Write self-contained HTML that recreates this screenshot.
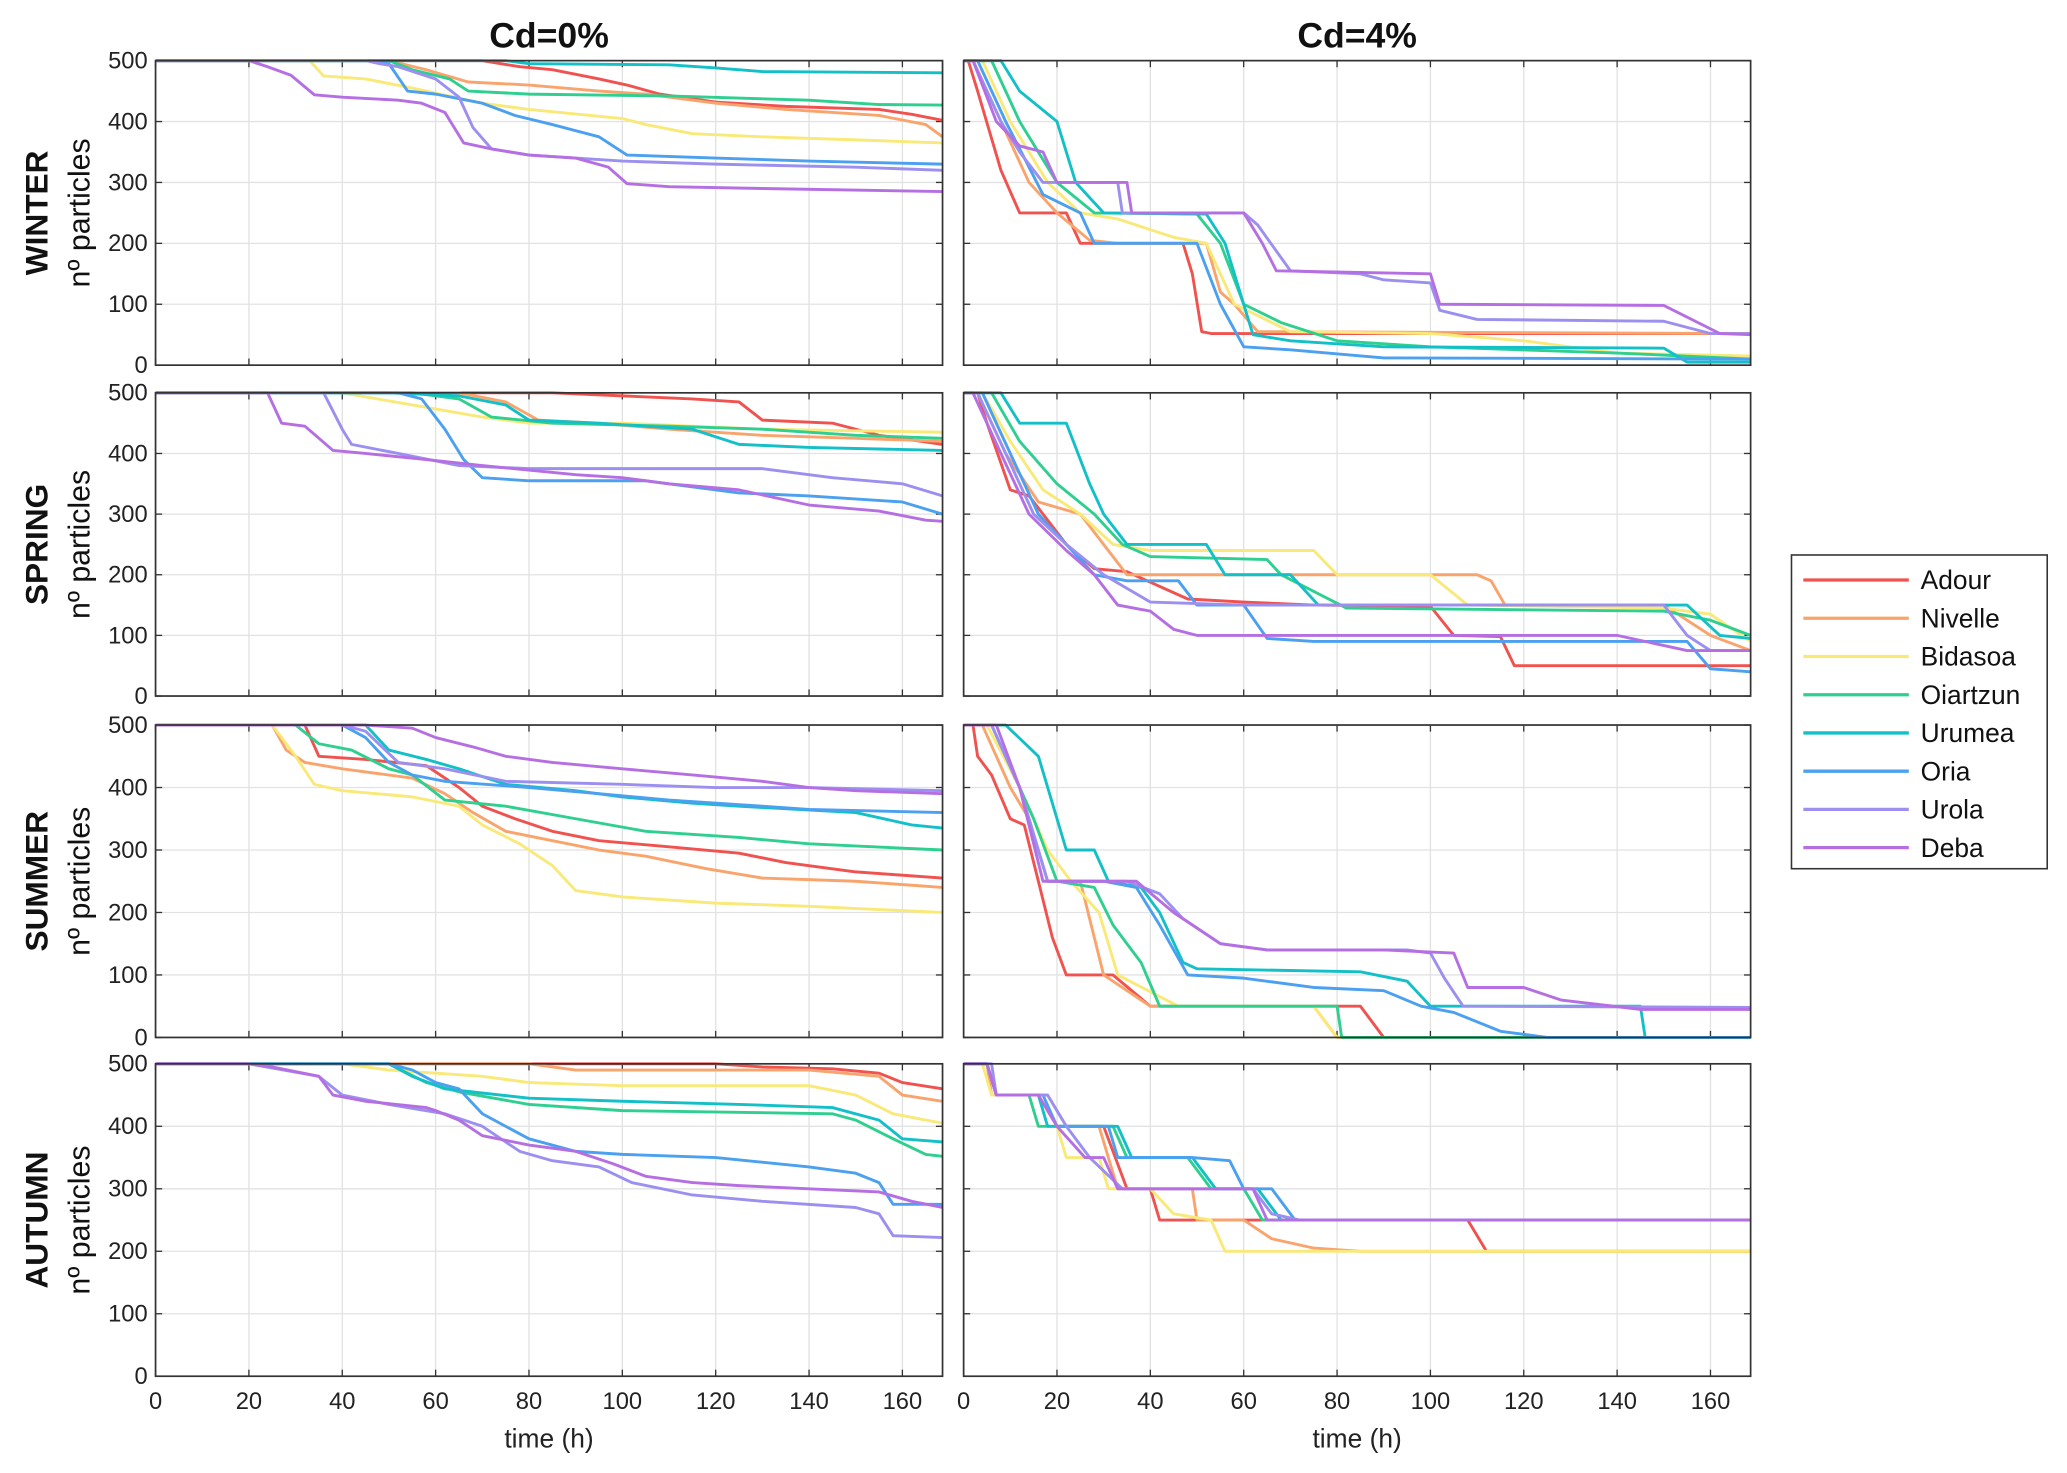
<!DOCTYPE html>
<html><head><meta charset="utf-8"><style>
html,body{margin:0;padding:0;background:#fff;}
svg{display:block;}
text{font-family:"Liberation Sans",sans-serif;}
.tick{font-family:"Liberation Sans Narrow","Liberation Sans",sans-serif;font-size:18px;fill:#222;}
</style></head><body>
<svg id="fig" width="2067" height="1473" viewBox="0 0 1568 1117.4" preserveAspectRatio="none" xmlns="http://www.w3.org/2000/svg"></svg>
<script>
const seriesNames = ["Adour","Nivelle","Bidasoa","Oiartzun","Urumea","Oria","Urola","Deba"];
const seasonNames = ["WINTER","SPRING","SUMMER","AUTUMN"];
const conditionNames = ["Cd=0%","Cd=4%"];
const xTicks = [0,20,40,60,80,100,120,140,160];
const yTicks = [0,100,200,300,400,500];
const colors = ["#f0524f","#f9a46c","#f8e978","#2ecf8f","#13c0c8","#4ba0ef","#9b90f0","#b56fe2"];

// series as flat [t,v,t,v,...] per river
const winterCd0 = [
 [0,500,70,500,78,490,85,485,95,470,101,460,108,445,120,432,135,425,155,420,162,412,168.6,402],
 [0,500,50,500,58,485,67,465,80,460,95,450,105,445,120,430,135,420,155,410,165,395,168.6,375],
 [0,500,33,500,36,475,45,470,55,455,70,430,80,420,100,405,105,395,115,380,130,375,150,370,168.6,365],
 [0,500,50,500,55,485,63,470,67,450,80,445,110,442,140,435,155,428,168.6,427],
 [0,500,75,500,80,495,110,493,120,488,130,482,168.6,480],
 [0,500,45,500,50,495,54,450,60,445,70,430,77,410,85,395,95,375,101,345,120,340,140,335,168.6,330],
 [0,500,45,500,48,495,52,490,60,470,65,440,68,390,72,355,80,345,100,335,120,330,150,325,168.6,320],
 [0,500,20,500,24,490,29,476,34,444,40,440,52,435,57,430,62,415,66,365,72,355,80,345,90,340,97,325,101,298,110,293,130,290,168.6,285]
];
const winterCd4 = [
 [0,500,1,500,3,450,8,320,12,250,22,250,25,200,47,200,49,150,51,55,53,52,168.6,52],
 [0,500,2,500,8,400,14,300,20,250,27,205,33,200,52,200,55,120,58,100,63,55,168.6,52],
 [0,500,4,500,10,400,18,300,25,250,33,240,45,210,52,200,58,100,70,55,100,52,120,40,140,20,168.6,15],
 [0,500,6,500,12,400,20,300,28,250,50,248,55,200,60,100,68,70,80,40,100,30,140,20,168.6,10],
 [0,500,8,500,12,450,20,400,24,300,30,250,52,248,56,200,62,50,70,40,90,30,150,28,155,5,168.6,5],
 [0,500,3,500,9,400,17,280,25,250,28,200,50,200,55,100,60,30,70,25,90,12,168.6,10],
 [0,500,2,500,8,400,12,350,17,300,33,300,34,250,60,250,63,230,70,155,85,150,90,140,100,135,102,90,110,75,150,72,160,52,168.6,52],
 [0,500,2,500,7,400,12,360,17,350,20,300,35,300,36,250,60,250,64,200,67,155,100,150,102,100,150,98,162,52,168.6,50]
];
const springCd0 = [
 [0,500,85,500,100,495,115,490,125,485,130,455,145,450,155,430,168.6,415],
 [0,500,65,500,75,485,82,455,95,450,110,440,130,430,150,425,168.6,420],
 [0,500,40,500,55,480,70,460,80,450,100,450,130,440,168.6,435],
 [0,500,55,500,65,490,72,460,85,450,110,445,130,440,150,430,168.6,425],
 [0,500,50,500,65,495,75,480,80,455,95,450,115,440,125,415,140,410,168.6,405],
 [0,500,52,500,57,490,62,440,66,390,70,360,80,355,105,355,125,335,140,330,160,320,168.6,300],
 [0,500,36,500,40,440,42,415,52,400,65,380,80,375,130,375,145,360,160,350,168.6,330],
 [0,500,24,500,27,450,32,445,38,405,45,400,58,390,70,380,90,365,100,360,110,350,125,340,140,315,155,305,165,290,168.6,288]
];
const springCd4 = [
 [0,500,3,500,5,450,10,340,14,330,17,300,22,250,28,210,35,205,48,160,60,155,75,150,100,148,105,100,115,98,118,50,168.6,50],
 [0,500,3,500,9,400,16,320,25,300,30,250,35,200,110,200,113,190,116,150,150,150,160,100,168.6,75],
 [0,500,4,500,10,420,17,340,25,300,32,250,40,240,75,240,80,200,100,200,108,150,150,145,160,135,168.6,90],
 [0,500,6,500,12,420,20,350,28,300,34,250,40,230,65,225,68,200,82,145,150,140,160,125,168.6,100],
 [0,500,8,500,12,450,22,450,27,350,30,300,35,250,52,250,56,200,70,200,76,150,155,150,162,100,168.6,95],
 [0,500,4,500,10,400,16,300,28,200,35,190,46,190,50,150,60,150,65,95,75,90,155,90,160,45,168.6,40],
 [0,500,3,500,9,400,15,300,22,250,30,200,40,155,60,150,150,150,155,100,160,75,168.6,75],
 [0,500,2,500,8,400,14,300,22,240,28,200,33,150,40,140,45,110,50,100,140,100,155,75,168.6,75]
];
const summerCd0 = [
 [0,500,32,500,35,450,45,445,58,435,65,400,70,370,77,350,85,330,95,315,110,305,125,295,135,280,150,265,168.6,255],
 [0,500,25,500,28,460,32,440,40,430,55,415,62,390,68,360,75,330,85,315,95,300,105,290,118,270,130,255,150,250,168.6,240],
 [0,500,25,500,30,450,34,405,40,395,55,385,65,370,70,340,78,310,85,275,90,235,100,225,120,215,140,210,168.6,200],
 [0,500,30,500,35,470,42,460,50,430,55,420,62,380,75,370,90,350,105,330,125,320,140,310,168.6,300],
 [0,500,45,500,50,460,58,445,65,430,75,405,90,395,100,385,115,375,125,370,150,360,162,340,168.6,335],
 [0,500,40,500,45,480,50,440,55,420,62,410,80,400,95,390,110,380,130,370,140,365,168.6,360],
 [0,500,40,500,45,490,52,440,62,430,75,410,100,405,120,400,140,400,168.6,395],
 [0,500,45,500,55,495,60,480,68,465,75,450,85,440,100,430,115,420,130,410,140,400,150,395,168.6,390]
];
const summerCd4 = [
 [0,500,2,500,3,450,6,420,10,350,13,340,16,250,19,160,22,100,32,100,40,50,85,50,90,0,168.6,0],
 [0,500,4,500,10,400,14,350,18,250,25,250,30,100,40,50,75,50,80,0,168.6,0],
 [0,500,5,500,12,400,18,300,23,250,29,200,33,100,46,50,75,50,78,20,80,0,168.6,0],
 [0,500,6,500,15,350,20,250,28,240,32,180,35,150,38,120,42,50,80,50,81,0,168.6,0],
 [0,500,9,500,16,450,22,300,28,300,31,250,38,240,42,200,47,120,50,110,85,105,95,90,100,50,145,50,146,0,168.6,0],
 [0,500,6,500,12,400,18,250,30,250,37,240,42,180,48,100,60,95,75,80,90,75,98,50,105,40,115,10,125,0,168.6,0],
 [0,500,6,500,12,400,18,250,35,250,42,230,47,190,55,150,65,140,95,140,100,135,103,95,107,50,168.6,48],
 [0,500,7,500,12,400,17,250,37,250,45,200,55,150,65,140,90,140,105,135,108,80,120,80,128,60,145,45,168.6,45]
];
const autumnCd0 = [
 [0,500,120,500,130,495,145,492,155,485,160,470,168.6,460],
 [0,500,80,500,90,490,140,490,155,480,160,450,168.6,440],
 [0,500,40,500,50,490,70,480,80,470,100,465,140,465,150,450,158,420,165,410,168.6,405],
 [0,500,50,500,58,470,65,455,80,435,100,425,145,420,150,410,158,380,165,355,168.6,352],
 [0,500,50,500,55,480,62,460,80,445,100,440,125,435,145,430,155,410,160,380,168.6,375],
 [0,500,50,500,55,490,60,470,65,460,70,420,80,380,90,360,100,355,120,350,140,335,150,325,155,310,158,275,168.6,275],
 [0,500,20,500,35,480,40,450,50,435,62,420,70,400,78,360,85,345,95,335,102,310,115,290,130,280,150,270,155,260,158,225,168.6,222],
 [0,500,20,500,25,495,35,480,38,450,45,440,58,430,60,425,65,410,70,385,80,370,90,360,98,340,105,320,115,310,125,305,140,300,155,295,162,280,168.6,270]
];
const autumnCd4 = [
 [0,500,5,500,7,450,16,450,20,400,30,400,35,300,40,300,42,250,108,250,112,200,168.6,200],
 [0,500,5,500,6,450,18,450,22,400,29,400,33,300,49,300,50,250,60,250,66,220,75,205,85,200,168.6,200],
 [0,500,4,500,6,450,16,450,20,400,22,350,29,350,31,300,40,300,45,260,53,250,56,200,168.6,200],
 [0,500,5,500,7,450,14,450,16,400,32,400,35,350,48,350,53,300,60,300,64,250,168.6,250],
 [0,500,5,500,7,450,16,450,18,400,33,400,36,350,49,350,54,300,63,300,68,250,168.6,250],
 [0,500,5,500,7,450,17,450,20,400,31,400,33,350,49,350,57,345,60,300,66,300,71,250,168.6,250],
 [0,500,6,500,7,450,18,450,22,400,27,350,34,300,62,300,66,260,72,250,168.6,250],
 [0,500,5,500,7,450,16,450,20,400,26,350,30,350,33,300,62,300,65,250,168.6,250]
];
const panels = [[winterCd0,winterCd4],[springCd0,springCd4],[summerCd0,summerCd4],[autumnCd0,autumnCd4]];

const NS="http://www.w3.org/2000/svg";
const svg=document.getElementById('fig');
function mk(tag,attrs,parent){const e=document.createElementNS(NS,tag);for(const k in attrs)e.setAttribute(k,attrs[k]);(parent||svg).appendChild(e);return e;}
const colX=[[118,715],[731,1328]];
const rowY=[[46,277],[298,528],[550,787],[807,1044]];
const XMAX=168.6, YMAX=500;
function xs(c,t){return colX[c][0]+(colX[c][1]-colX[c][0])*t/XMAX;}
function ys(r,v){return rowY[r][1]-(rowY[r][1]-rowY[r][0])*v/YMAX;}

for(let r=0;r<4;r++){
 for(let c=0;c<2;c++){
  const g=mk('g',{});
  
  
  const x0=colX[c][0],x1=colX[c][1],y0=rowY[r][0],y1=rowY[r][1];
  mk('rect',{x:x0,y:y0,width:x1-x0,height:y1-y0,fill:'#fff'},g);
  xTicks.forEach(t=>{const x=xs(c,t);
   const l=mk('line',{x1:x,x2:x,y1:y0,y2:y1,stroke:'#e2e2e2','stroke-width':1},g);
   
   mk('line',{x1:x,x2:x,y1:y1,y2:y1-5,stroke:'#333','stroke-width':1},g);
   mk('line',{x1:x,x2:x,y1:y0,y2:y0+5,stroke:'#333','stroke-width':1},g);
   if(r===3){const tx=mk('text',{x:x,y:y1+25,'text-anchor':'middle',class:'tick'},g);tx.textContent=t;
    }
  });
  yTicks.forEach(v=>{const y=ys(r,v);
   const l=mk('line',{x1:x0,x2:x1,y1:y,y2:y,stroke:'#e2e2e2','stroke-width':1},g);
   
   mk('line',{x1:x0,x2:x0+5,y1:y,y2:y,stroke:'#333','stroke-width':1},g);
   mk('line',{x1:x1,x2:x1-5,y1:y,y2:y,stroke:'#333','stroke-width':1},g);
   if(c===0){const tx=mk('text',{x:x0-6,y:y+6,'text-anchor':'end',class:'tick'},g);tx.textContent=v;
    }
  });
  const data=panels[r][c];
  data.forEach((arr,i)=>{
   let pts=[];for(let k=0;k<arr.length;k+=2)pts.push(xs(c,arr[k]).toFixed(1)+','+ys(r,arr[k+1]).toFixed(1));
   const p=mk('polyline',{points:pts.join(' '),fill:'none',stroke:colors[i],'stroke-width':2.2,'stroke-linejoin':'round'},g);
   
   
  });
  mk('rect',{x:x0,y:y0,width:x1-x0,height:y1-y0,fill:'none',stroke:'#333','stroke-width':1.3},g);
 }
 const cy=(rowY[r][0]+rowY[r][1])/2;
 const s=mk('text',{x:0,y:0,transform:`translate(36,${cy}) rotate(-90)`,'text-anchor':'middle','font-size':24,'font-weight':'bold',fill:'#111'});
 s.textContent=seasonNames[r];
 const yl=mk('text',{x:0,y:0,transform:`translate(68,${cy}) rotate(-90)`,'text-anchor':'middle','font-size':23,fill:'#111'});
 yl.textContent='nº particles';
}
conditionNames.forEach((n,c)=>{
 const t=mk('text',{x:(colX[c][0]+colX[c][1])/2,y:36,'text-anchor':'middle','font-size':27,'font-weight':'bold',fill:'#111'});
 t.textContent=n;
 const xl=mk('text',{x:(colX[c][0]+colX[c][1])/2,y:1098,'text-anchor':'middle','font-size':20,fill:'#222'});
 xl.textContent='time (h)';
});
const lg=mk('g',{});

mk('rect',{x:1359,y:421,width:194,height:238,fill:'#fff',stroke:'#333','stroke-width':1.2},lg);
seriesNames.forEach((n,i)=>{
 const y=440+i*29;
 const e=mk('g',{},lg);
 
 mk('line',{x1:1368,x2:1448,y1:y,y2:y,stroke:colors[i],'stroke-width':2.5},e);
 const t=mk('text',{x:1457,y:y+7,'font-size':20,fill:'#111'},e);t.textContent=n;
});
</script>
</body></html>
